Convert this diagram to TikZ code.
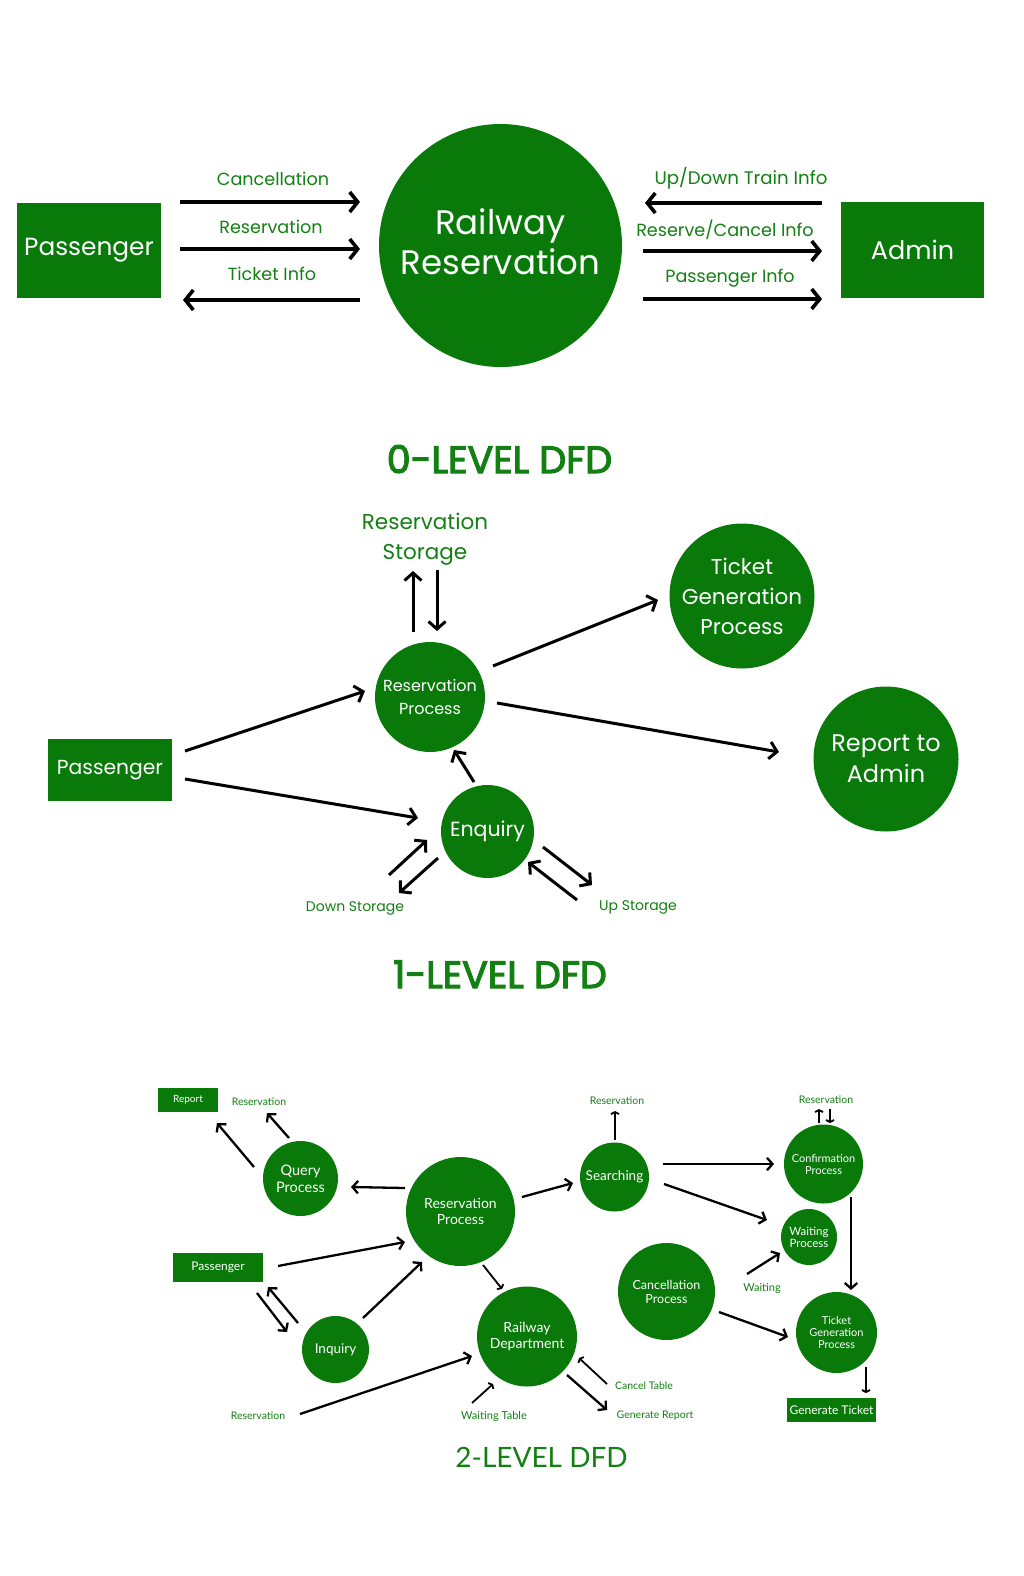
\documentclass[tikz,border=0pt]{standalone}
\usepackage{fontspec}
\setmainfont{Poppins}
\newfontfamily\titlefont[FakeBold=3]{Poppins}
\newfontfamily\gfont{Lato}
\usetikzlibrary{arrows.meta}
\definecolor{dfdgreen}{RGB}{9,122,9}
\definecolor{lblgreen}{RGB}{18,128,18}
\newcommand{\fs}[2]{\fontsize{#1}{#2}\selectfont}
\tikzset{
  proc/.style={circle, fill=dfdgreen, text=white, inner sep=0pt, align=center},
  ext/.style={rectangle, fill=dfdgreen, text=white, inner sep=0pt},
  lbl/.style={text=lblgreen, inner sep=0pt, align=center},
  aa/.style={line width=3.6pt, -{Straight Barb[length=8pt, width=20pt]}},
  ab/.style={line width=3pt, -{Straight Barb[length=7.5pt, width=17pt]}},
  ac/.style={line width=2.3pt, -{Straight Barb[length=5.5pt, width=12.5pt]}},
  ad/.style={line width=1.8pt, -{Straight Barb[length=2pt, width=8pt]}},
}
\begin{document}
\begin{tikzpicture}[x=1pt, y=-1pt]
\useasboundingbox (0,0) rectangle (1024,1576);

% ---------------- 0-level ----------------
\node[ext, minimum width=144pt, minimum height=95pt, font=\fs{24.8}{30}] (pass0) at (89,250.5) {Passenger};
\node[proc, minimum size=243pt, font=\fs{34}{40}] (rr) at (500.5,245.5) {};
\node[text=white, inner sep=0pt, align=center, font=\fs{34}{40}] (rrt) at (500.5,242) {Railway\\Reservation};
\node[ext, minimum width=143pt, minimum height=96pt, font=\fs{25.5}{30}] (admin) at (912.5,250) {Admin};

\coordinate (c1s) at (180,202); \coordinate (c1e) at (360,202);
\coordinate (c2s) at (180,249); \coordinate (c2e) at (360,249);
\coordinate (c3s) at (360,300); \coordinate (c3e) at (183,300);
\coordinate (d1s) at (822,203); \coordinate (d1e) at (645,203);
\coordinate (d2s) at (643,251); \coordinate (d2e) at (822,251);
\coordinate (d3s) at (643,299); \coordinate (d3e) at (822,299);
\draw[aa] (c1s) -- (c1e);
\draw[aa] (c2s) -- (c2e);
\draw[aa] (c3s) -- (c3e);
\draw[aa] (d1s) -- (d1e);
\draw[aa] (d2s) -- (d2e);
\draw[aa] (d3s) -- (d3e);

\node[lbl, anchor=base, font=\fs{17.6}{22}] (lcan) at (273,185) {Cancellation};
\node[lbl, anchor=base, font=\fs{17.6}{22}] (lres) at (271,233) {Reservation};
\node[lbl, anchor=base, font=\fs{17.6}{22}] (ltic) at (272,280) {Ticket Info};
\node[lbl, anchor=base, font=\fs{18.2}{22}] (lupd) at (741,184) {Up/Down Train Info};
\node[lbl, anchor=base, font=\fs{17.6}{22}] (lrci) at (725,236) {Reserve/Cancel Info};
\node[lbl, anchor=base, font=\fs{17.6}{22}] (lpin) at (730,282) {Passenger Info};

\node[lbl, anchor=base, font=\titlefont\fs{38}{44}] (t0) at (499.5,473) {0-LEVEL DFD};

% ---------------- 1-level ----------------
\node[lbl, font=\fs{21.5}{30}] (rstor) at (425,539) {Reservation\\Storage};
\node[proc, minimum size=110pt, font=\fs{16}{23}] (rp1) at (430,697) {Reservation\\Process};
\node[proc, minimum size=145pt, font=\fs{21.5}{30}] (tg1) at (742,596) {Ticket\\Generation\\Process};
\node[proc, minimum size=145pt, font=\fs{24}{31}] (ra1) at (886,759) {Report to\\Admin};
\node[ext, minimum width=124pt, minimum height=62pt, font=\fs{20.3}{26}] (pass1) at (110,770) {Passenger};
\node[proc, minimum size=93pt, font=\fs{20.5}{25}] (enq1) at (487.5,831.5) {Enquiry};

\coordinate (s1a) at (413,632); \coordinate (s1b) at (413,571);
\coordinate (s2a) at (437,570); \coordinate (s2b) at (437,631);
\coordinate (p1a) at (185,751); \coordinate (p1b) at (365,691);
\coordinate (p2a) at (185,779); \coordinate (p2b) at (418,818);
\coordinate (r1a) at (493,666); \coordinate (r1b) at (658,600);
\coordinate (r2a) at (497,703); \coordinate (r2b) at (779,752);
\coordinate (e1a) at (474,782); \coordinate (e1b) at (454,750);
\coordinate (ds1a) at (389,875); \coordinate (ds1b) at (427,840);
\coordinate (ds2a) at (438,858); \coordinate (ds2b) at (399,893);
\coordinate (us1a) at (543,847); \coordinate (us1b) at (592,885);
\coordinate (us2a) at (577,900); \coordinate (us2b) at (528,862);
\foreach \p in {s1,s2,p1,p2,r1,r2,e1,ds1,ds2,us1,us2}
  \draw[ab] (\p a) -- (\p b);

\node[lbl, font=\fs{14}{18}] (ldown) at (355,908) {Down Storage};
\node[lbl, font=\fs{14}{18}] (lup) at (638,907) {Up Storage};

\node[lbl, anchor=base, font=\titlefont\fs{38}{44}] (t1) at (500,988) {1-LEVEL DFD};

% ---------------- 2-level ----------------
\begin{scope}[font=\gfont]
\node[ext, minimum width=60pt, minimum height=24pt, font=\gfont\fs{10}{12}] (rep2) at (188,1100) {Report};
\node[ext, minimum width=90pt, minimum height=29pt, font=\gfont\fs{12}{14}] (pass2) at (218,1267.5) {Passenger};
\node[ext, minimum width=89pt, minimum height=24pt, font=\gfont\fs{12}{14}] (gt2) at (831.5,1410) {Generate Ticket};

\node[proc, minimum size=75pt, font=\gfont\fs{14.5}{17}] (qp2) at (300.5,1178.5) {Query\\Process};
\node[proc, minimum size=109pt, font=\gfont\fs{14}{15.5}] (rp2) at (460.5,1211.5) {Reservation\\Process};
\node[proc, minimum size=69pt, font=\gfont\fs{13.5}{16}] (se2) at (614.5,1177) {Searching};
\node[proc, minimum size=79pt, font=\gfont\fs{11}{12}] (cp2) at (823.5,1164) {Confirmation\\Process};
\node[proc, minimum size=56pt, font=\gfont\fs{11.5}{12}] (wp2) at (809,1237) {Waiting\\Process};
\node[proc, minimum size=81pt, font=\gfont\fs{11}{12}] (tg2) at (836.5,1332.5) {Ticket\\Generation\\Process};
\node[proc, minimum size=100pt, font=\gfont\fs{14}{16}] (rd2) at (527,1336.5) {Railway\\Department};
\node[proc, minimum size=97pt, font=\gfont\fs{12.5}{14}] (cn2) at (666.5,1291.5) {Cancellation\\Process};
\node[proc, minimum size=67pt, font=\gfont\fs{13.5}{16}] (iq2) at (335.5,1349.5) {Inquiry};

\node[lbl, font=\gfont\fs{10.5}{12}] (lr1) at (259,1102) {Reservation};
\node[lbl, font=\gfont\fs{10.5}{12}] (lr2) at (617,1101) {Reservation};
\node[lbl, font=\gfont\fs{10.5}{12}] (lr3) at (826,1100) {Reservation};
\node[lbl, font=\gfont\fs{11}{12}] (lwait) at (762,1288) {Waiting};
\node[lbl, font=\gfont\fs{10.5}{12}] (lr4) at (258,1416) {Reservation};
\node[lbl, font=\gfont\fs{11}{12}] (lwt) at (494,1416) {Waiting Table};
\node[lbl, font=\gfont\fs{10.5}{12}] (lct) at (644,1386) {Cancel Table};
\node[lbl, font=\gfont\fs{10.5}{12}] (lgr) at (655,1416) {Generate Report};

\coordinate (q1a) at (254,1167); \coordinate (q1b) at (217,1123);
\coordinate (q2a) at (289,1138); \coordinate (q2b) at (267,1113);
\coordinate (rqa) at (405,1188); \coordinate (rqb) at (351,1187);
\coordinate (pra) at (278,1266); \coordinate (prb) at (405,1242);
\coordinate (pi1a) at (257,1293); \coordinate (pi1b) at (287,1332);
\coordinate (pi2a) at (298,1323); \coordinate (pi2b) at (268,1287);
\coordinate (ira) at (363,1318); \coordinate (irb) at (422,1262);
\coordinate (rsa) at (522,1197); \coordinate (rsb) at (573,1183);
\coordinate (sca) at (663,1164); \coordinate (scb) at (774,1164);
\coordinate (swa) at (664,1184); \coordinate (swb) at (767,1220);
\coordinate (cta) at (851,1197); \coordinate (ctb) at (851,1290);
\coordinate (wla) at (747,1274); \coordinate (wlb) at (780,1253);
\coordinate (cna) at (719,1312); \coordinate (cnb) at (788,1337);
\coordinate (resa) at (300,1414); \coordinate (resb) at (472,1356);
\coordinate (gra) at (567,1375); \coordinate (grb) at (607,1410);
\foreach \p in {q1,q2,rq,pr,pi1,pi2,ir,rs,sc,sw,ct,wl,cn,res,gr}
  \draw[ac] (\p a) -- (\p b);

\coordinate (sua) at (615,1140); \coordinate (sub) at (615,1111);
\coordinate (cr1a) at (819,1123); \coordinate (cr1b) at (819,1109);
\coordinate (cr2a) at (830,1109); \coordinate (cr2b) at (830,1123);
\coordinate (tga) at (866,1367); \coordinate (tgb) at (866,1393);
\coordinate (rra) at (483,1265); \coordinate (rrb) at (502,1289);
\coordinate (wta) at (472,1403); \coordinate (wtb) at (493,1384);
\coordinate (cba) at (607,1384); \coordinate (cbb) at (579,1358);
\foreach \p in {cr1,cr2,tg,rr,wt,cb,su}
  \draw[ad] (\p a) -- (\p b);

\node[lbl, font=\gfont\fs{28}{32}] (t2) at (541.5,1457) {2-LEVEL DFD};
\end{scope}
\end{tikzpicture}
\end{document}
